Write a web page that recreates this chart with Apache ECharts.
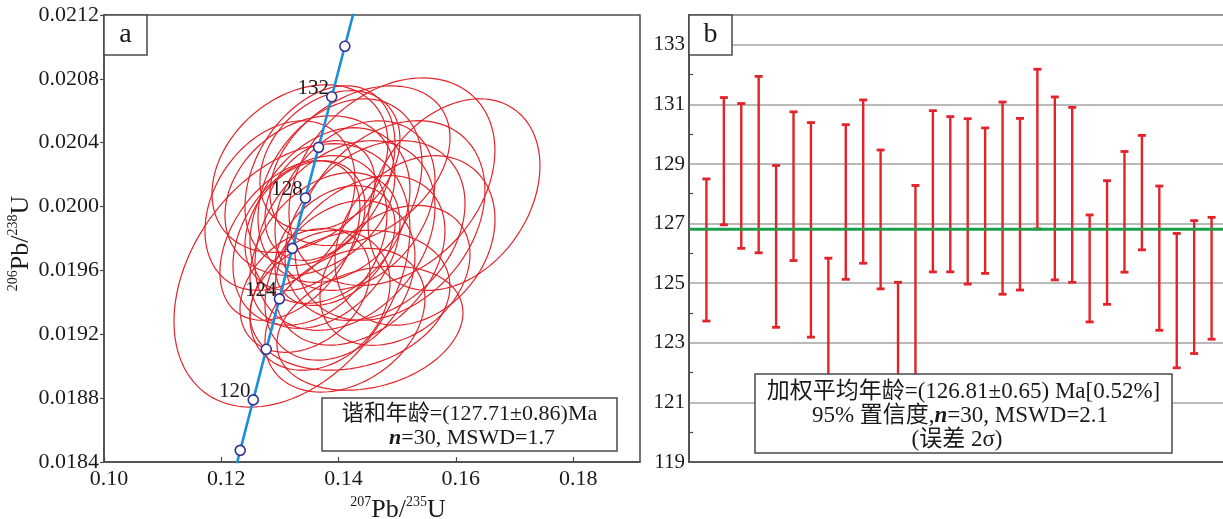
<!DOCTYPE html>
<html><head><meta charset="utf-8">
<script src="https://cdn.jsdelivr.net/npm/echarts@6/dist/echarts.min.js"></script>
<style>html,body{margin:0;padding:0;background:#fff}#c{width:1223px;height:519px}</style>
</head><body><div id="c"></div>
<script>
// ---------- Panel a : concordia (ratios) ----------
const concordiaAges = [116,118,120,122,124,126,128,130,132,134,136];
const concordiaX = [0.12102,0.12323,0.12545,0.12767,0.12991,0.13212,0.13435,0.13659,0.13883,0.14107,0.14332];
const concordiaY = [0.018157,0.018473,0.018789,0.019106,0.019422,0.019738,0.020054,0.020371,0.020688,0.021004,0.021321];
const markerAges = [118,120,122,124,126,128,130,132,134];
const labelledAges = [120,124,128,132];

// error ellipses: centre 207Pb/235U, centre 206Pb/238U, 2s half-widths, correlation
const ellX = [0.13205,0.15968,0.14910,0.14535,0.14109,0.13342,0.13683,0.13512,0.13171,0.13853,0.13512,0.14024,0.13768,0.14109,0.13427,0.13683,0.14024,0.14365,0.14621,0.14280,0.14876,0.15303,0.13853,0.14365,0.13001,0.13427,0.13939,0.14194,0.14962,0.13683];
const ellY = [0.019569,0.020075,0.020156,0.019238,0.019288,0.020238,0.020194,0.019788,0.019788,0.019944,0.020069,0.020100,0.019725,0.019819,0.019475,0.019413,0.019538,0.019663,0.019850,0.020006,0.019913,0.019788,0.020288,0.020256,0.020006,0.019881,0.019756,0.019413,0.019569,0.020038];
const ellSx = [0.02012,0.01466,0.01756,0.01586,0.01364,0.01500,0.01279,0.01313,0.01194,0.01364,0.01449,0.01398,0.01279,0.01535,0.01108,0.01194,0.01279,0.01449,0.01535,0.01364,0.01620,0.01364,0.01194,0.01535,0.01279,0.01023,0.01023,0.01705,0.01279,0.00938];
const ellSy = [0.000825,0.000600,0.000650,0.000388,0.000450,0.000525,0.000563,0.000531,0.000500,0.000550,0.000500,0.000575,0.000488,0.000594,0.000388,0.000438,0.000500,0.000531,0.000563,0.000531,0.000625,0.000531,0.000438,0.000500,0.000531,0.000406,0.000375,0.000438,0.000438,0.000375];
const ellRho = [0.35,0.3,0.3,0.25,0.3,0.3,0.35,0.3,0.4,0.3,0.25,0.3,0.35,0.3,0.3,0.25,0.3,0.35,0.3,0.3,0.3,0.25,0.3,0.35,0.3,0.3,0.35,0.2,0.3,0.3];

const xTicksA = [0.10,0.12,0.14,0.16,0.18];
const yTicksA = [0.0184,0.0188,0.0192,0.0196,0.0200,0.0204,0.0208,0.0212];

// ---------- Panel b : 206Pb/238U ages (Ma) with 2s error bars ----------
const spotNo = [1,2,3,4,5,6,7,8,9,10,11,12,13,14,15,16,17,18,19,20,21,22,23,24,25,26,27,28,29,30];
const ageHigh = [128.50,131.23,131.03,131.94,128.95,130.75,130.39,125.84,130.32,131.15,129.47,125.03,128.28,130.79,130.59,130.52,130.21,131.08,130.53,132.18,131.25,130.90,127.29,128.44,129.42,129.96,128.26,126.67,127.10,127.21];
const ageLow  = [123.73,126.96,126.17,126.02,123.52,125.76,123.19,120.80,125.13,125.67,124.81,120.20,121.30,125.38,125.38,124.97,125.33,124.63,124.77,126.82,125.11,125.03,123.70,124.29,125.37,126.12,123.42,122.16,122.64,123.12];
const meanAge = 126.81;
const yTicksB = [119,121,123,125,127,129,131,133];

const SERIF = '"Liberation Serif","Times New Roman","Noto Sans CJK SC",serif';
const RED = '#e2232a';
const FRAME = '#4a4a4a';

const chart = echarts.init(document.getElementById('c'), null, {renderer:'canvas'});

const onList = (v, list) => list.some(t => Math.abs(t - v) < 1e-7);

const supRich = {
  m: {fontSize: 26, fontFamily: SERIF, color: '#1a1a1a', lineHeight: 30},
  s: {fontSize: 14, fontFamily: SERIF, color: '#1a1a1a', lineHeight: 18, verticalAlign: 'top'}
};

const option = {
  backgroundColor: '#ffffff',
  animation: false,
  grid: [
    {left:104, top:15, width:536, height:447, show:true, borderColor:FRAME, borderWidth:1.5, backgroundColor:'rgba(0,0,0,0)', outerBoundsMode:'none', containLabel:false},
    {left:689, top:15, width:540, height:447, show:true, borderColor:FRAME, borderWidth:1.5, backgroundColor:'rgba(0,0,0,0)', outerBoundsMode:'none', containLabel:false},
    {left:689, top:15, width:540, height:417, show:false, outerBoundsMode:'none', containLabel:false}
  ],
  xAxis: [
    {gridIndex:0, type:'value', min:0.10, max:0.1914, interval:0.02,
     axisLine:{show:true, onZero:false, lineStyle:{color:FRAME, width:1.5}},
     axisTick:{show:true, inside:true, length:5, lineStyle:{color:FRAME, width:1.2}},
     axisLabel:{show:true, margin:6, fontSize:22, fontFamily:SERIF, color:'#1a1a1a', showMaxLabel:false, padding:[0,0,0,10],
       formatter: v => onList(v, xTicksA) ? v.toFixed(2) : ''},
     splitLine:{show:false},
     name:'{s|207}{m|Pb/}{s|235}{m|U}', nameLocation:'middle', nameGap:28,
     nameTextStyle:{rich:supRich, padding:[0,0,0,52]}},
    {gridIndex:1, type:'value', min:0, max:31,
     axisLine:{show:true, onZero:false, lineStyle:{color:FRAME, width:1.5}},
     axisTick:{show:false}, axisLabel:{show:false}, splitLine:{show:false}},
    {gridIndex:2, type:'value', min:0, max:31, show:false}
  ],
  yAxis: [
    {gridIndex:0, type:'value', min:0.0184, max:0.0212, interval:0.0004,
     axisLine:{show:true, onZero:false, lineStyle:{color:FRAME, width:1.5}},
     axisTick:{show:true, inside:false, length:4, lineStyle:{color:FRAME, width:1.2}},
     axisLabel:{show:true, margin:5, fontSize:22, fontFamily:SERIF, color:'#1a1a1a',
       formatter: v => onList(v, yTicksA) ? v.toFixed(4) : ''},
     splitLine:{show:false},
     name:'{s|206}{m|Pb/}{s|238}{m|U}', nameLocation:'middle', nameGap:62, nameRotate:90,
     nameTextStyle:{rich:supRich, padding:[0,10,0,0]}},
    {gridIndex:1, type:'value', min:119, max:134, interval:2,
     axisLine:{show:true, onZero:false, lineStyle:{color:FRAME, width:1.5}},
     axisTick:{show:false},
     axisLabel:{show:true, margin:4, fontSize:21, fontFamily:SERIF, color:'#1a1a1a',
       formatter: v => onList(v, yTicksB) ? String(Math.round(v)) : ''},
     splitLine:{show:true, lineStyle:{color:'#a3a3a3', width:1.5}}},
    {gridIndex:2, type:'value', min:120, max:134, interval:2,
     axisLine:{show:false}, axisLabel:{show:false}, splitLine:{show:false},
     axisTick:{show:true, inside:true, length:4, lineStyle:{color:FRAME, width:1.2}}}
  ],
  series: [
    {
      type:'custom', name:'ellipses', xAxisIndex:0, yAxisIndex:0, clip:true, z:2,
      data: ellX.map((x,i) => [x, ellY[i], ellSx[i], ellSy[i], ellRho[i]]),
      encode:{x:0, y:1},
      renderItem: (params, api) => {
        const cx = api.value(0), cy = api.value(1), sx = api.value(2), sy = api.value(3), r = api.value(4);
        const k = Math.sqrt(1 - r*r);
        const pts = [];
        for (let i = 0; i <= 120; i++) {
          const t = i / 120 * Math.PI * 2;
          pts.push(api.coord([cx + sx*Math.cos(t), cy + sy*(r*Math.cos(t) + k*Math.sin(t))]));
        }
        return {type:'polyline', shape:{points:pts}, style:{stroke:RED, lineWidth:1.2, fill:null}, silent:true};
      }
    },
    {
      type:'line', name:'concordia', xAxisIndex:0, yAxisIndex:0, clip:true, z:3,
      data: concordiaAges.map((a,i) => [concordiaX[i], concordiaY[i]]),
      showSymbol:false, symbol:'none', smooth:true,
      lineStyle:{color:'#1b8fd9', width:2.6}
    },
    {
      type:'scatter', name:'ages', xAxisIndex:0, yAxisIndex:0, z:4,
      data: markerAges.map(a => { const i = concordiaAges.indexOf(a); return [concordiaX[i], concordiaY[i], a]; }),
      symbol:'circle', symbolSize:10,
      itemStyle:{color:'#ffffff', borderColor:'#2e3192', borderWidth:1.6, opacity:1},
      label:{show:true, position:'left', distance:0, offset:[3,-8], fontSize:21, fontFamily:SERIF, color:'#1a1a1a',
        formatter: p => labelledAges.indexOf(p.value[2]) >= 0 ? String(p.value[2]) : ''}
    },
    {
      type:'custom', name:'errorbars', xAxisIndex:1, yAxisIndex:1, z:3,
      data: spotNo.map((n,i) => [n, ageLow[i], ageHigh[i]]),
      encode:{x:0, y:[1,2]},
      renderItem: (params, api) => {
        const x = api.value(0);
        const pHi = api.coord([x, api.value(2)]);
        const pLo = api.coord([x, api.value(1)]);
        const h = 4;
        const st = {stroke:RED, lineWidth:2.4};
        return {type:'group', children:[
          {type:'line', shape:{x1:pHi[0], y1:pHi[1], x2:pLo[0], y2:pLo[1]}, style:st},
          {type:'line', shape:{x1:pHi[0]-h, y1:pHi[1], x2:pHi[0]+h, y2:pHi[1]}, style:{stroke:RED, lineWidth:2.8}},
          {type:'line', shape:{x1:pLo[0]-h, y1:pLo[1], x2:pLo[0]+h, y2:pLo[1]}, style:{stroke:RED, lineWidth:2.8}}
        ]};
      }
    },
    {
      type:'line', name:'mean', xAxisIndex:1, yAxisIndex:1, z:5,
      data:[[0, meanAge],[31, meanAge]], symbol:'none',
      lineStyle:{color:'#1f9e4a', width:3}
    }
  ],
  graphic: [
    {type:'rect', z:100, shape:{x:104, y:15, width:43, height:40}, style:{fill:'#fff', stroke:FRAME, lineWidth:1.5}},
    {type:'text', z:101, x:125.5, y:35, style:{text:'a', font:'28px "Liberation Serif"', fill:'#1a1a1a', align:'center', verticalAlign:'middle'}},
    {type:'rect', z:100, shape:{x:689, y:15, width:43, height:40}, style:{fill:'#fff', stroke:FRAME, lineWidth:1.5}},
    {type:'text', z:101, x:710.5, y:35, style:{text:'b', font:'28px "Liberation Serif"', fill:'#1a1a1a', align:'center', verticalAlign:'middle'}},

    {type:'rect', z:100, shape:{x:322, y:398, width:295, height:53}, style:{fill:'#fff', stroke:FRAME, lineWidth:1.5}},
    {type:'text', z:101, x:469.5, y:414, style:{text:'谐和年龄=(127.71±0.86)Ma', font:'22px ' + SERIF, fill:'#1a1a1a', align:'center', verticalAlign:'middle'}},
    {type:'text', z:101, x:472, y:438, style:{text:'{i|n}=30, MSWD=1.7', font:'22px ' + SERIF, fill:'#1a1a1a', align:'center', verticalAlign:'middle',
      rich:{i:{fontStyle:'italic', fontWeight:'bold', fontSize:22, fontFamily:SERIF, fill:'#1a1a1a'}}}},

    {type:'rect', z:100, shape:{x:755, y:374, width:417, height:79}, style:{fill:'#fff', stroke:FRAME, lineWidth:1.5}},
    {type:'text', z:101, x:963.5, y:392, style:{text:'加权平均年龄=(126.81±0.65) Ma[0.52%]', font:'23px ' + SERIF, fill:'#1a1a1a', align:'center', verticalAlign:'middle'}},
    {type:'text', z:101, x:960, y:416, style:{text:'95% 置信度,{i|n}=30, MSWD=2.1', font:'23px ' + SERIF, fill:'#1a1a1a', align:'center', verticalAlign:'middle',
      rich:{i:{fontStyle:'italic', fontWeight:'bold', fontSize:23, fontFamily:SERIF, fill:'#1a1a1a'}}}},
    {type:'text', z:101, x:957, y:440, style:{text:'(误差 2σ)', font:'23px ' + SERIF, fill:'#1a1a1a', align:'center', verticalAlign:'middle'}}
  ]
};
chart.setOption(option);
</script>
</body></html>
